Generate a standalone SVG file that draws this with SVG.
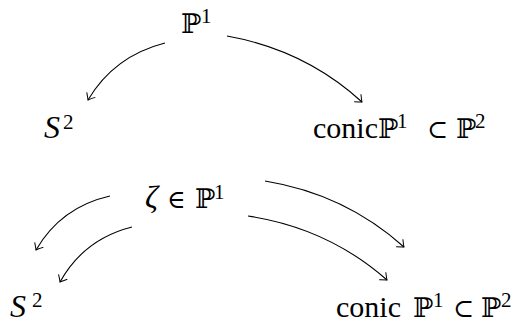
<svg xmlns="http://www.w3.org/2000/svg" width="523" height="324" viewBox="0 0 523 324">
<defs>
<marker id="to" markerWidth="12" markerHeight="12" refX="0" refY="0" viewBox="-8 -6 10 12" orient="auto" markerUnits="userSpaceOnUse">
<path d="M -6,-5 Q -1.5,-1 0,0 Q -1.5,1 -6,5" fill="none" stroke="#000" stroke-width="1"/>
</marker>
</defs>
<style>
text { font-family: "Liberation Serif", "DejaVu Serif", serif; font-size: 30px; fill: #000; }
.it { font-style: italic; font-size: 32px; }
.bb { font-family: "DejaVu Serif", "DejaVu Sans", serif; font-size: 27px; }
.sup { font-size: 21px; }
.sym { font-family: "DejaVu Serif", serif; font-size: 25px; }
.edge { fill: none; stroke: #000; stroke-width: 1.1; marker-end: url(#to); }
</style>
<g id="n-p1-top"><text><tspan class="bb" x="181" y="33">ℙ</tspan><tspan class="sup" x="201" y="23">1</tspan></text></g>
<g id="n-s2-top"><text><tspan class="it" x="44" y="138">S</tspan><tspan class="sup" x="63" y="129">2</tspan></text></g>
<g id="n-conic-top"><text><tspan x="313" y="138">conic</tspan><tspan class="bb" x="378" y="138">ℙ</tspan><tspan class="sup" x="397" y="128">1</tspan><tspan class="sym" x="427" y="138">⊂</tspan><tspan class="bb" x="456" y="138">ℙ</tspan><tspan class="sup" x="475" y="128">2</tspan></text></g>
<g id="n-zeta"><text><tspan class="it" x="145" y="208">ζ</tspan><tspan class="sym" x="167" y="208">∈</tspan><tspan class="bb" x="195" y="208">ℙ</tspan><tspan class="sup" x="214" y="199">1</tspan></text></g>
<g id="n-s2-bot"><text><tspan class="it" x="10" y="317">S</tspan><tspan class="sup" x="32" y="307">2</tspan></text></g>
<g id="n-conic-bot"><text><tspan x="336" y="317">conic</tspan><tspan class="bb" x="413" y="317">ℙ</tspan><tspan class="sup" x="433" y="307">1</tspan><tspan class="sym" x="453" y="317">⊂</tspan><tspan class="bb" x="481" y="317">ℙ</tspan><tspan class="sup" x="501" y="307">2</tspan></text></g>
<g id="connectors">
<path class="edge" d="M 165,43 Q 114,56 88,100"/>
<path class="edge" d="M 227,36 Q 305,50 362,102"/>
<path class="edge" d="M 110,196 Q 61,207 36,250"/>
<path class="edge" d="M 132,227 Q 84,239 60,282"/>
<path class="edge" d="M 265,181 Q 345,194 404,247"/>
<path class="edge" d="M 248,216 Q 328,228 387,280"/>
</g>
</svg>
